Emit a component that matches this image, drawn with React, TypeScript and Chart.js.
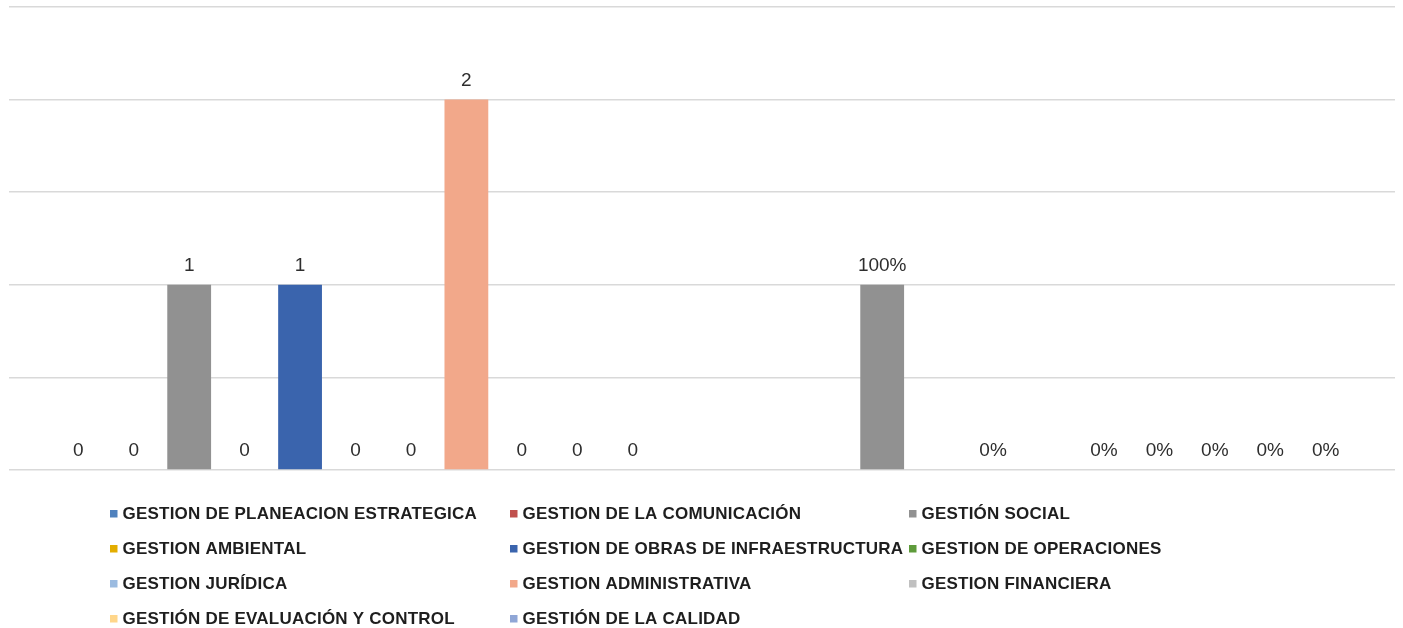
import React, { useEffect, useRef } from "react";
import { Chart, registerables } from "chart.js";

Chart.register(...registerables);

const categories = ["Cantidad", "Porcentaje"];

const seriesNames = [
  "GESTION DE PLANEACION ESTRATEGICA",
  "GESTION DE LA COMUNICACIÓN",
  "GESTIÓN SOCIAL",
  "GESTION AMBIENTAL",
  "GESTION DE OBRAS DE INFRAESTRUCTURA",
  "GESTION DE OPERACIONES",
  "GESTION JURÍDICA",
  "GESTION ADMINISTRATIVA",
  "GESTION FINANCIERA",
  "GESTIÓN DE EVALUACIÓN Y CONTROL",
  "GESTIÓN DE LA CALIDAD",
];

const seriesColors = [
  "#4F81BD",
  "#C0504D",
  "#919191",
  "#E3AD00",
  "#3A64AD",
  "#5E9B3B",
  "#9BBBE0",
  "#F2A88A",
  "#C0C0C0",
  "#FFD68A",
  "#8FA6D6",
];

// values per series: [Cantidad, Porcentaje]
const planeacion = [0, null];
const comunicacion = [0, null];
const social = [1, 1];
const ambiental = [0, null];
const obras = [1, 0];
const operaciones = [0, null];
const juridica = [0, 0];
const administrativa = [2, 0];
const financiera = [0, 0];
const evaluacion = [0, 0];
const calidad = [0, 0];

const seriesValues = [
  planeacion,
  comunicacion,
  social,
  ambiental,
  obras,
  operaciones,
  juridica,
  administrativa,
  financiera,
  evaluacion,
  calidad,
];

const yTicks = [0, 0.5, 1, 1.5, 2, 2.5];

const labelPlugin = {
  id: "barLabels",
  afterDatasetsDraw(chart: any) {
    const ctx = chart.ctx;
    ctx.save();
    ctx.font = "19px 'Liberation Sans', Arial, sans-serif";
    ctx.fillStyle = "#2E2E2E";
    ctx.textAlign = "center";
    ctx.textBaseline = "alphabetic";
    chart.data.datasets.forEach((ds: any, di: number) => {
      const meta = chart.getDatasetMeta(di);
      meta.data.forEach((bar: any, i: number) => {
        const v = ds.data[i];
        if (v === null || v === undefined) return;
        const txt = i === 1 ? `${Math.round(v * 100)}%` : `${v}`;
        ctx.fillText(txt, bar.x, bar.y - 14);
      });
    });
    ctx.restore();
  },
};

const legendCols = [110, 510, 909];
const legendRows = [513.5, 548.5, 583.5, 618.5];

const legendPlugin = {
  id: "gridLegend",
  afterDraw(chart: any) {
    const ctx = chart.ctx;
    ctx.save();
    ctx.font = "bold 17px 'Liberation Sans', Arial, sans-serif";
    (ctx as any).letterSpacing = "0.22px";
    ctx.textBaseline = "middle";
    ctx.textAlign = "left";
    chart.data.datasets.forEach((ds: any, i: number) => {
      const x = legendCols[i % 3];
      const y = legendRows[Math.floor(i / 3)];
      ctx.fillStyle = ds.backgroundColor;
      ctx.fillRect(x, y - 3.5, 7.5, 7.5);
      ctx.fillStyle = "#1E1E1E";
      ctx.fillText(ds.label, x + 12.5, y + 0.5);
    });
    ctx.restore();
  },
};

export default function App() {
  const ref = useRef<HTMLCanvasElement>(null);
  useEffect(() => {
    document.body.style.margin = "0";
    const chart = new Chart(ref.current!, {
      type: "bar",
      data: {
        labels: categories,
        datasets: seriesNames.map((name, i) => ({
          label: name,
          data: seriesValues[i],
          backgroundColor: seriesColors[i],
          borderWidth: 0,
          categoryPercentage: 0.88,
          barPercentage: 0.79,
        })),
      },
      options: {
        animation: false,
        responsive: false,
        maintainAspectRatio: false,
        layout: { padding: { left: 9, right: 8, top: 7, bottom: 158 } },
        plugins: {
          legend: { display: false },
          tooltip: { enabled: false },
        },
        scales: {
          x: {
            display: false,
            grid: { display: false },
          },
          y: {
            min: 0,
            max: 2.5,
            afterBuildTicks: (axis: any) => {
              axis.ticks = yTicks.map((v) => ({ value: v }));
            },
            ticks: { display: false },
            border: { display: false },
            grid: { color: "#D9D9D9", lineWidth: 1.5, drawTicks: false },
          },
        },
      },
      plugins: [labelPlugin, legendPlugin],
    });
    return () => chart.destroy();
  }, []);
  return (
    <div style={{ width: 1403, height: 628, background: "#fff" }}>
      <canvas ref={ref} width={1403} height={628} style={{ display: "block" }} />
    </div>
  );
}
